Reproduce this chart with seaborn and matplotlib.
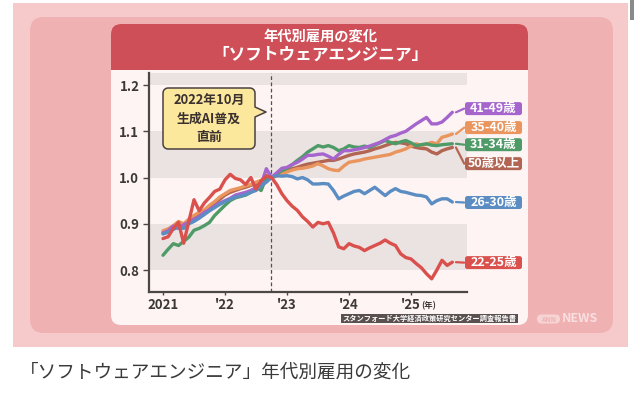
import numpy as np
import pandas as pd
import matplotlib
matplotlib.use("Agg")
import matplotlib.pyplot as plt
import seaborn as sns
from matplotlib.patches import FancyBboxPatch, Rectangle, Polygon

# ---------------- data (monthly, Jan 2021 .. Sep 2025) -------------
dates = pd.date_range("2021-01-01", "2025-09-01", freq="MS")

v_22_25 = [0.868, 0.872, 0.890, 0.903, 0.858, 0.905, 0.952, 0.928, 0.945, 0.957,
           0.970, 0.975, 0.995, 1.007, 0.998, 0.995, 0.985, 1.000, 0.975, 0.993, 1.003,
           1.000, 0.985, 0.965, 0.950, 0.938, 0.929, 0.915, 0.905, 0.893, 0.903,
           0.900, 0.903, 0.880, 0.850, 0.846, 0.857, 0.852, 0.849, 0.842, 0.848,
           0.853, 0.858, 0.865, 0.858, 0.853, 0.835, 0.827, 0.824, 0.814, 0.805,
           0.792, 0.781, 0.800, 0.821, 0.810, 0.817]
v_26_30 = [0.878, 0.882, 0.888, 0.893, 0.890, 0.900, 0.905, 0.912, 0.920, 0.928,
           0.935, 0.942, 0.948, 0.953, 0.958, 0.960, 0.963, 0.968, 0.972, 0.982, 0.990,
           1.000, 1.004, 1.003, 1.004, 1.002, 0.997, 1.000, 0.995, 0.986, 0.986,
           0.987, 0.986, 0.972, 0.954, 0.960, 0.965, 0.970, 0.972, 0.965, 0.972,
           0.979, 0.970, 0.961, 0.970, 0.976, 0.970, 0.968, 0.965, 0.962, 0.961,
           0.958, 0.943, 0.950, 0.954, 0.954, 0.947]
v_31_34 = [0.832, 0.845, 0.857, 0.853, 0.862, 0.871, 0.886, 0.890, 0.896, 0.903,
           0.918, 0.929, 0.940, 0.950, 0.956, 0.959, 0.962, 0.968, 0.979, 0.972, 1.000,
           1.000, 1.008, 1.015, 1.020, 1.028, 1.037, 1.045, 1.055, 1.062, 1.069,
           1.066, 1.069, 1.065, 1.058, 1.062, 1.069, 1.066, 1.065, 1.068, 1.065,
           1.070, 1.075, 1.080, 1.076, 1.073, 1.077, 1.080, 1.075, 1.069, 1.071,
           1.073, 1.070, 1.069, 1.071, 1.072, 1.073]
v_35_40 = [0.885, 0.889, 0.896, 0.905, 0.900, 0.910, 0.918, 0.925, 0.930, 0.940,
           0.948, 0.958, 0.965, 0.972, 0.975, 0.978, 0.982, 0.985, 0.990, 0.994, 1.002,
           1.000, 1.003, 1.008, 1.012, 1.016, 1.019, 1.020, 1.022, 1.025, 1.030,
           1.025, 1.019, 1.016, 1.015, 1.025, 1.033, 1.035, 1.037, 1.040, 1.042,
           1.044, 1.046, 1.048, 1.050, 1.055, 1.058, 1.062, 1.068, 1.073, 1.069,
           1.072, 1.076, 1.073, 1.087, 1.090, 1.094]
v_41_49 = [0.880, 0.885, 0.895, 0.890, 0.898, 0.903, 0.910, 0.915, 0.925, 0.930,
           0.938, 0.945, 0.950, 0.955, 0.962, 0.965, 0.968, 0.972, 0.978, 0.985, 1.019,
           1.000, 1.010, 1.020, 1.022, 1.028, 1.033, 1.040, 1.048, 1.048, 1.050,
           1.051, 1.046, 1.040, 1.050, 1.058, 1.058, 1.060, 1.062, 1.065, 1.068,
           1.072, 1.076, 1.082, 1.088, 1.091, 1.096, 1.100, 1.108, 1.116, 1.123,
           1.130, 1.116, 1.116, 1.120, 1.130, 1.141]
v_50_up = [0.882, 0.887, 0.893, 0.900, 0.897, 0.906, 0.915, 0.922, 0.928, 0.936,
           0.945, 0.953, 0.962, 0.968, 0.972, 0.976, 0.979, 0.983, 0.987, 0.992, 1.004,
           1.000, 1.006, 1.012, 1.016, 1.019, 1.022, 1.026, 1.029, 1.031, 1.033,
           1.035, 1.037, 1.037, 1.040, 1.044, 1.048, 1.051, 1.053, 1.055, 1.058,
           1.062, 1.065, 1.069, 1.073, 1.076, 1.075, 1.073, 1.068, 1.065, 1.063,
           1.062, 1.055, 1.051, 1.058, 1.062, 1.065]

groups = ["50歳以上", "35-40歳", "31-34歳", "41-49歳", "26-30歳", "22-25歳"]
series = [v_50_up, v_35_40, v_31_34, v_41_49, v_26_30, v_22_25]
line_colors = ["#b26552", "#e9955d", "#4f9b68", "#a565cd", "#5b8dc3", "#d9504c"]
label_values = [1.030, 1.108, 1.071, 1.149, 0.946, 0.816]   # label heights (data units)

x_ticks = [0, 12, 24, 36, 48]
x_tick_labels = ["2021", "'22", "'23", "'24", "'25"]
y_ticks = [0.8, 0.9, 1.0, 1.1, 1.2]
y_tick_labels = ["0.8", "0.9", "1.0", "1.1", "1.2"]
marker_month = 21  # Oct 2022

month_idx = (dates.year - 2021) * 12 + (dates.month - 1)
df = pd.concat([pd.DataFrame({"month": month_idx, "value": v, "group": g})
                for g, v in zip(groups, series)], ignore_index=True)

# ---------------- figure -------------
sns.set_theme(style="white")
plt.rcParams["font.family"] = ["Noto Sans CJK JP", "DejaVu Sans"]

W, H = 640, 401
fig = plt.figure(figsize=(6.4, 4.01), dpi=100)
fig.patch.set_facecolor("white")

bg = fig.add_axes([0, 0, 1, 1], zorder=0)
bg.set_xlim(0, W); bg.set_ylim(H, 0); bg.axis("off")

bg.add_patch(Rectangle((13, 3), 615, 344, fc="#f6cacb", ec="none"))
bg.add_patch(FancyBboxPatch((30, 17), 583, 316, boxstyle="round,pad=0,rounding_size=14",
                            fc="#f0b1b2", ec="none"))
bg.add_patch(FancyBboxPatch((111, 24), 417, 301, boxstyle="round,pad=0,rounding_size=10",
                            fc="#fdf4f3", ec="none"))
bg.add_patch(FancyBboxPatch((111, 24), 417, 46, boxstyle="round,pad=0,rounding_size=10",
                            fc="#cf4f58", ec="none"))
bg.add_patch(Rectangle((111, 50), 417, 20, fc="#cf4f58", ec="none"))
bg.add_patch(Rectangle((630, 0), 4, 20, fc="#8a8a8a", ec="none"))

# chart axes
ax = fig.add_axes([149 / W, (H - 292) / H, 318 / W, 219 / H], zorder=1)
ax.set_facecolor("#fdf4f3")
for lo, hi in [(0.8, 0.9), (1.0, 1.1), (1.2, 1.3)]:
    ax.axhspan(lo, hi, color="#ebe3e2", lw=0, zorder=0)
ax.axvline(marker_month, color="#555050", lw=0.9, ls=(0, (3, 2)), zorder=1)

pal = dict(zip(groups, line_colors))
sns.lineplot(data=df, x="month", y="value", hue="group", hue_order=groups, palette=pal,
             lw=2.4, legend=False, ax=ax, zorder=3, solid_joinstyle="round",
             solid_capstyle="round")

ax.set_xlim(-2.71, 58.84)
ax.set_ylim(0.7525, 1.226)
ax.set_xticks(x_ticks)
ax.set_xticklabels(x_tick_labels)
ax.set_yticks(y_ticks)
ax.set_yticklabels(y_tick_labels)
ax.set_xlabel(""); ax.set_ylabel("")
for s in ["top", "right"]:
    ax.spines[s].set_visible(False)
for s in ["left", "bottom"]:
    ax.spines[s].set_color("#4d4646")
    ax.spines[s].set_linewidth(1.6)
ax.tick_params(axis="y", length=4, width=1, color="#4d4646", pad=3, labelsize=9.5,
               labelcolor="#3d3838")
ax.tick_params(axis="x", length=2.5, width=1, color="#4d4646", pad=2, labelsize=9.5,
               labelcolor="#3d3838")
for t in ax.get_xticklabels() + ax.get_yticklabels():
    t.set_fontweight("bold")
ax.tick_params(left=True, bottom=True)

ov = fig.add_axes([0, 0, 1, 1], zorder=2)
ov.set_xlim(0, W); ov.set_ylim(H, 0); ov.axis("off"); ov.patch.set_alpha(0)

# "(年)" after '25
ov.text(421, 306, "(年)", fontsize=6, weight="bold", color="#3d3838", ha="left", va="center")

# right-side labels with connectors
for g, v, c, lv in zip(groups, series, line_colors, label_values):
    ax.plot([56.7, 58.3], [v[-1], lv], color=c, lw=1.6, clip_on=False, zorder=4)
    ypx = H - ax.transData.transform((0, lv))[1]
    ov.add_patch(FancyBboxPatch((465, ypx - 6.5), 57, 13,
                                boxstyle="round,pad=0,rounding_size=2.5", fc=c, ec="none"))
    ov.text(493.5, ypx + 0.3, g, fontsize=9, weight="bold", color="white",
            ha="center", va="center")

# speech bubble annotation
def bubble(x0, y0, x1, y1, r, py0, py1, tipx, tipy, n=6):
    pts = []
    def arc(cx, cy, a0, a1):
        for a in np.linspace(np.radians(a0), np.radians(a1), n):
            pts.append((cx + r * np.cos(a), cy + r * np.sin(a)))
    arc(x1 - r, y0 + r, -90, 0)
    pts += [(x1, py0), (tipx, tipy), (x1, py1)]
    arc(x1 - r, y1 - r, 0, 90)
    arc(x0 + r, y1 - r, 90, 180)
    arc(x0 + r, y0 + r, 180, 270)
    return pts

ov.add_patch(Polygon(bubble(163, 88, 255, 149, 5, 107, 117, 266, 112), closed=True,
                     fc="#fbe89c", ec="#4a4040", lw=1.1, joinstyle="round"))
ov.text(209, 119, "2022年10月\n生成AI普及\n直前", fontsize=9.3, weight="bold",
        color="#3a3030", ha="center", va="center", linespacing=1.35)

# title
ov.text(320, 37, "年代別雇用の変化", fontsize=10.3, weight="bold", color="white",
        ha="center", va="center")
ov.text(320, 55, "「ソフトウェアエンジニア」", fontsize=12, weight="bold", color="white",
        ha="center", va="center")

# source
ov.text(429.5, 318.5, "スタンフォード大学経済政策研究センター調査報告書", fontsize=5.2,
        weight="bold", color="white", ha="center", va="center",
        bbox=dict(boxstyle="square,pad=0.15", fc="#5a5050", ec="none"))

# logo
ov.add_patch(FancyBboxPatch((537, 314.5), 23, 9, boxstyle="round,pad=0,rounding_size=4.5",
                            fc="white", ec="none", alpha=0.45))
ov.text(548.5, 319, "ANN", fontsize=5, weight="bold", color="#f0b1b2", ha="center", va="center")
ov.text(580, 319, "NEWS", fontsize=9, weight="bold", color="white", alpha=0.6,
        ha="center", va="center")

# caption
ov.text(20, 373, "「ソフトウェアエンジニア」年代別雇用の変化", fontsize=13.4,
        color="#3a3a3a", ha="left", va="center")

fig.savefig("out.png", dpi=100)
